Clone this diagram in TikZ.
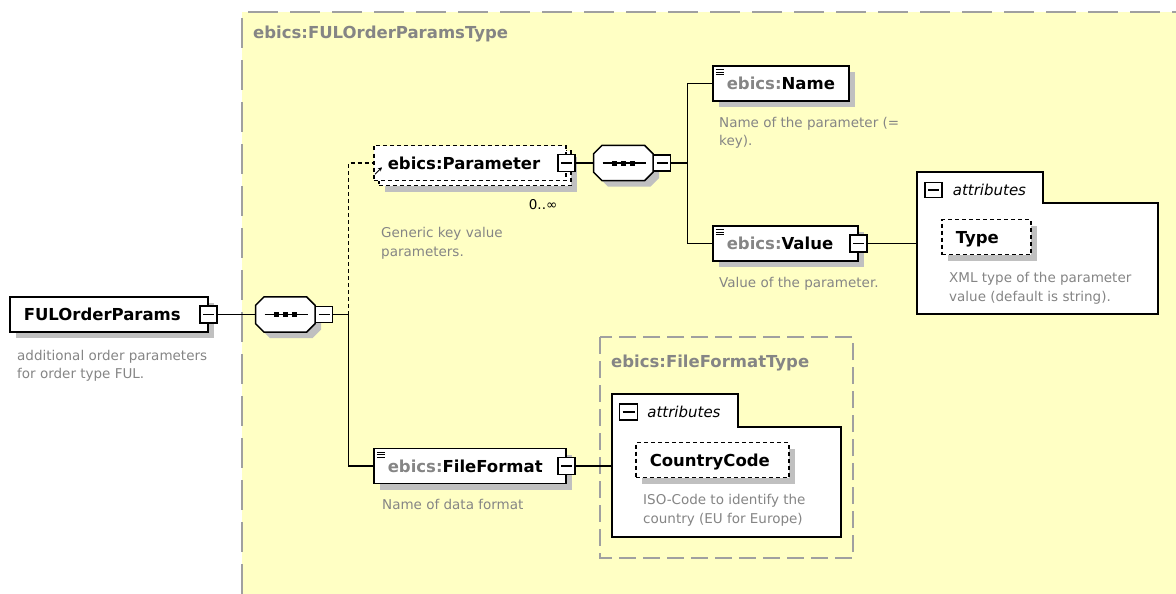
\documentclass[tikz,border=0pt]{standalone}
\usepackage{fontspec}
\setmainfont{DejaVu Sans}
\usetikzlibrary{arrows.meta,positioning,shadows}
\definecolor{pad}{HTML}{FFFFC4}
\definecolor{frame}{HTML}{A0A0A0}
\definecolor{shade}{HTML}{C0C0C0}
\definecolor{note}{HTML}{858585}
\tikzset{
  wire/.style={line width=1.2pt,draw=black},
  box/.style={draw=black,line width=1.5pt,fill=white,inner xsep=14pt,inner ysep=0pt,
              minimum height=35pt,text width=#1,align=left,text height=12pt,text depth=0pt,
              font=\fontsize{16.5}{19}\selectfont\bfseries},
  elem/.style={box=#1,drop shadow={shadow xshift=6pt,shadow yshift=-6pt,fill=shade,opacity=1}},
  optional/.style={dash pattern=on 4pt off 3pt},
  leaf/.style={path picture={
      \foreach \k in {0,1,2}
        \draw[line width=0.9pt] ([shift={(3pt,{-3.5pt-2.6pt*\k})}]path picture bounding box.north west) -- ++(8pt,0pt);}},
  minus/.style={draw=black,line width=1.2pt,fill=white,inner sep=0pt,
                minimum width=17pt,minimum height=17pt,
                path picture={\draw[line width=1.3pt] ([xshift=3pt]path picture bounding box.west)
                                -- ([xshift=-3pt]path picture bounding box.east);}},
  seq/.style={rectangle,inner sep=0pt,minimum width=59pt,minimum height=35pt},
  seqline/.style={draw=black,fill=white,line width=1.5pt,
                  drop shadow={shadow xshift=6pt,shadow yshift=-6pt,fill=shade,opacity=1}},
  desc/.style={font=\fontsize{13.5}{18.5}\selectfont,text=note,align=left,inner sep=0pt},
  occur/.style={font=\fontsize{13.5}{16}\selectfont,inner sep=0pt},
  typename/.style={font=\fontsize{16.5}{19}\selectfont\bfseries,text=note,inner sep=0pt},
  attrtag/.style={font=\fontsize{15}{18}\selectfont\itshape,inner sep=0pt},
  attrbox/.style={draw=black,line width=1.5pt,fill=white},
  region/.style={draw=frame,line width=2pt,dash pattern=on 30pt off 12pt},
  subregion/.style={draw=frame,line width=2pt,dash pattern=on 17pt off 7pt},
}
\begin{document}
\begin{tikzpicture}[x=1pt,y=-1pt]
  \useasboundingbox (0,0) rectangle (1176,594);
  % complex type area
  \fill[pad] (242,12) rectangle (1176,594);
  \draw[region] (242,594) -- (242,12) -- (1176,12);
  \node[typename,anchor=base west] (padtype) at (253,39) {ebics:FULOrderParamsType};
  \draw[subregion] (600,337) rectangle (853,558);
  \node[typename,anchor=base west] (fftype) at (611,367) {ebics:FileFormatType};

  % root element
  \node[elem=170pt,anchor=west] (root) at (9,314.5) {FULOrderParams};
  \node[minus] (rootm) at (root.east) {};
  \node[desc,below right=17pt and 8pt of root.south west] (rootd)
    {additional order parameters\\for order type FUL.};
  \node[seq,right=38pt of rootm] (seq1) {};

  % Parameter (0..unbounded)
  \node[elem=164pt,optional,anchor=west] (parback) at (378,168) {};
  \node[box=164pt,optional,anchor=west] (par) at (373,163) {ebics:Parameter};
  \draw[line width=1pt,-{Stealth[length=4pt,width=4pt]}] ([shift={(2pt,7pt)}]par.south west) -- ++(7pt,7pt);
  \node[minus] (parm) at (par.east) {};
  \node[occur,below left=13pt and 14pt of parback.south east] (paroccur) {0..∞};
  \node[desc,below right=46pt and 8pt of par.south west] (pard)
    {Generic key value\\parameters.};
  \node[seq,right=18pt of parm] (seq2) {};

  % sequence compositors
  \foreach \s in {seq1,seq2}{
    \path[seqline] ([xshift=8.5pt]\s.north west) -- ([xshift=-8.5pt]\s.north east)
      -- ([yshift=-8.5pt]\s.north east) -- ([yshift=8.5pt]\s.south east)
      -- ([xshift=-8.5pt]\s.south east) -- ([xshift=8.5pt]\s.south west)
      -- ([yshift=8.5pt]\s.south west) -- ([yshift=-8.5pt]\s.north west) -- cycle;
    \draw[line width=1.3pt] ([xshift=9pt]\s.west) -- ([xshift=-7pt]\s.east);
    \foreach \d in {-11.5,-2.5,6.5}
      \fill[black] ([xshift=\d pt,yshift=-2.5pt]\s.center) rectangle ++(5pt,5pt);
  }
  \node[minus,minimum height=16pt,right=0pt of seq1] (seq1m) {};
  \coordinate (br1) at ([xshift=15pt]seq1m.east);
  \node[minus,minimum height=16pt,right=0pt of seq2] (seq2m) {};
  \coordinate (br2) at ([xshift=16pt]seq2m.east);

  % Name and Value
  \node[elem=108pt,leaf,anchor=west] (name) at (712,83.5) {{\color{note}ebics:}Name};
  \node[desc,below right=15pt and 7pt of name.south west] (named)
    {Name of the parameter (=\\key).};
  \node[elem=117pt,leaf,anchor=west] (val) at (712,243.5) {{\color{note}ebics:}Value};
  \node[minus] (valm) at (val.east) {};
  \node[desc,below right=15pt and 7pt of val.south west] (vald) {Value of the parameter.};

  % attributes of Value
  \draw[attrbox] (917,172) -- (1043,172) -- (1043,203) -- (1158,203) -- (1158,314) -- (917,314) -- cycle;
  \coordinate (attr1) at (917,243.5);
  \node[minus,minimum height=15pt] (attr1m) at (933.5,190) {};
  \node[attrtag,right=10pt of attr1m] (attr1t) {attributes};
  \node[elem=61pt,optional,anchor=west] (type) at (941,237) {Type};
  \node[desc,below right=17pt and 8pt of type.south west] (typed)
    {XML type of the parameter\\value (default is string).};

  % FileFormat
  \node[elem=164pt,leaf,anchor=west] (ff) at (373,466) {{\color{note}ebics:}FileFormat};
  \node[minus] (ffm) at (ff.east) {};
  \node[desc,below right=15pt and 9pt of ff.south west] (ffd) {Name of data format};

  % attributes of FileFormat
  \draw[attrbox] (612,394) -- (738,394) -- (738,427) -- (841,427) -- (841,537) -- (612,537) -- cycle;
  \coordinate (attr2) at (612,466);
  \node[minus,minimum width=18pt,minimum height=16pt] (attr2m) at (628.5,412) {};
  \node[attrtag,right=9pt of attr2m] (attr2t) {attributes};
  \node[elem=125pt,optional,anchor=west] (cc) at (635,460) {CountryCode};
  \node[desc,below right=16pt and 8pt of cc.south west] (ccd)
    {ISO-Code to identify the\\country (EU for Europe)};

  % connectors
  \draw[wire] (rootm) -- (seq1);
  \draw[wire] (seq1m) -- (br1);
  \draw[wire,optional] (br1) |- (par);
  \draw[wire] (br1) |- (ff);
  \draw[wire] (parm) -- (seq2);
  \draw[wire] (seq2m) -- (br2);
  \draw[wire] (br2) |- (name);
  \draw[wire] (br2) |- (val);
  \draw[wire] (valm) -- (attr1);
  \draw[wire] (ffm) -- (attr2);
\end{tikzpicture}
\end{document}
